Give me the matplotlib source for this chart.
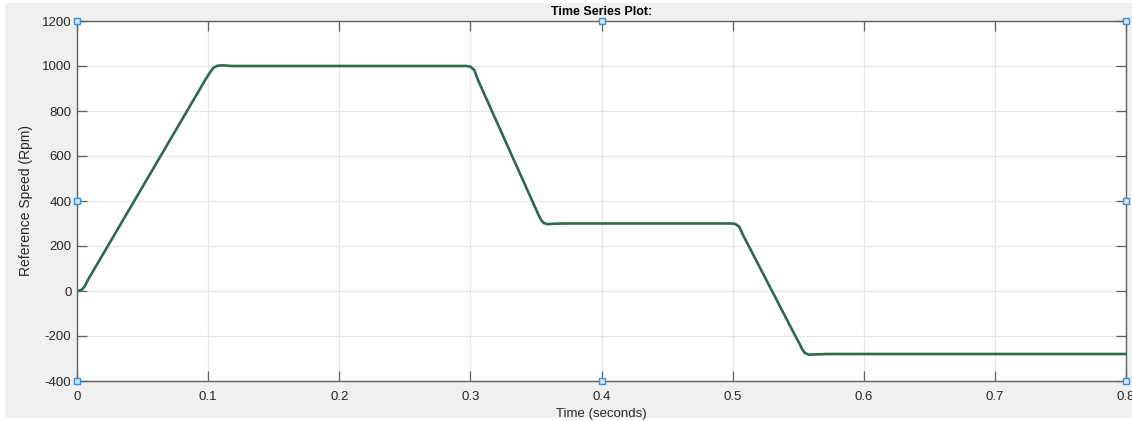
"""Reference speed time series, MATLAB-style figure window look."""

import matplotlib.pyplot as plt
from matplotlib.patches import Rectangle
from matplotlib.ticker import FuncFormatter, MultipleLocator

# time (s) and reference speed (rpm)
TIME_S = [
    0.0, 0.002, 0.004, 0.006, 0.009, 0.098, 0.101, 0.104, 0.107, 0.111, 0.118,
    0.297, 0.300, 0.303, 0.306, 0.350, 0.352, 0.354, 0.356, 0.359, 0.364, 0.372,
    0.499, 0.502, 0.505, 0.508, 0.549, 0.551, 0.553, 0.555, 0.558, 0.563, 0.572,
    0.800,
]
SPEED_RPM = [
    0, 2, 7, 22, 56, 940, 968, 992, 1001, 1003, 1000,
    1000, 997, 982, 935, 364, 338, 315, 302, 297, 299, 300,
    300, 298, 286, 248, -213, -234, -258, -275, -283, -282, -280,
    -280,
]

X_LIMITS = (0, 0.8)
Y_LIMITS = (-400, 1200)

LINE_COLOR = "#2D6A4B"
BG_COLOR = "#F0F0F0"
AXIS_COLOR = "#606060"
GRID_COLOR = "#E6E6E6"
TEXT_COLOR = "#262626"

plt.rcParams.update({
    "font.family": ["Liberation Sans", "DejaVu Sans"],
    "font.size": 9,
    "xtick.direction": "in",
    "ytick.direction": "in",
})

fig = plt.figure(figsize=(11.32, 4.21), dpi=100, facecolor="white")
# grey figure panel with thin white margin, like the screenshot
fig.patches.append(Rectangle((5 / 1132, 3 / 421), 1 - 5 / 1132, 415 / 421,
                             transform=fig.transFigure, facecolor=BG_COLOR,
                             edgecolor="none", zorder=-10))

ax = fig.add_axes([77 / 1132, 1 - 381 / 421, (1126 - 77) / 1132, (381 - 21) / 421])
ax.set_facecolor("white")

ax.plot(TIME_S, SPEED_RPM, color=LINE_COLOR, linewidth=1.9,
        solid_joinstyle="round", solid_capstyle="round")

ax.set_xlim(*X_LIMITS)
ax.set_ylim(*Y_LIMITS)
ax.xaxis.set_major_locator(MultipleLocator(0.1))
ax.yaxis.set_major_locator(MultipleLocator(200))
ax.xaxis.set_major_formatter(FuncFormatter(lambda v, _: f"{v:g}"))
ax.yaxis.set_major_formatter(FuncFormatter(lambda v, _: f"{v:g}"))

ax.grid(True, color=GRID_COLOR, linewidth=0.9)
ax.set_axisbelow(True)
for spine in ax.spines.values():
    spine.set_color(AXIS_COLOR)
    spine.set_linewidth(1.0)
ax.tick_params(axis="both", which="major", length=7, width=0.9, color=AXIS_COLOR,
               labelcolor=TEXT_COLOR, top=True, right=True, labelsize=9.5)
ax.tick_params(axis="x", pad=7)
ax.tick_params(axis="y", pad=4)

ax.set_title("Time Series Plot:", fontsize=9, fontweight="bold", color="black", pad=4)
ax.set_xlabel("Time (seconds)", fontsize=9.5, color=TEXT_COLOR, labelpad=4)
ax.set_ylabel("Reference Speed (Rpm)", fontsize=10, color=TEXT_COLOR, labelpad=6)

# selection handles on the axes box (corners and edge midpoints)
handle_pos = [(0, 0), (0.5, 0), (1, 0), (0, 0.5), (1, 0.5), (0, 1), (0.5, 1), (1, 1)]
for hx, hy in handle_pos:
    ax.plot(hx, hy, marker="s", markersize=5, markerfacecolor="#CDE8FA",
            markeredgecolor="#3A8FD9", markeredgewidth=1.0,
            transform=ax.transAxes, clip_on=False, zorder=5)

fig.savefig("out.png", dpi=100, facecolor=fig.get_facecolor())
